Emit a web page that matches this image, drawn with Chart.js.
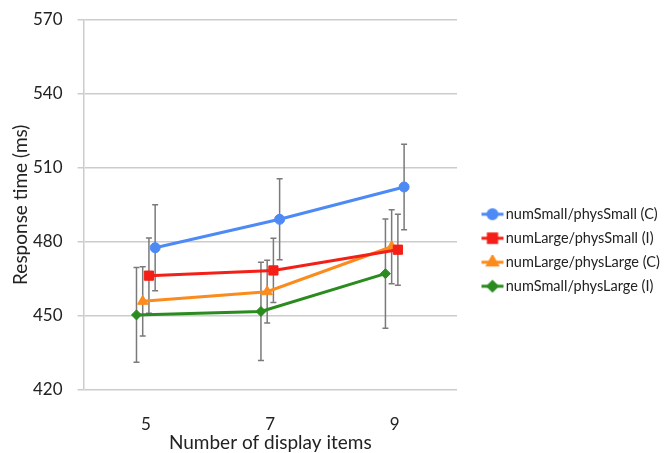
<!DOCTYPE html>
<html>
<head>
<meta charset="utf-8">
<script src="https://cdn.jsdelivr.net/npm/chart.js@4.4.0/dist/chart.umd.min.js"></script>
<style>
  html, body { margin: 0; padding: 0; background: #fff; }
  #wrap { width: 668px; height: 453px; }
</style>
</head>
<body>
<div id="wrap"><canvas id="myChart" width="668" height="453"></canvas></div>
<script>
// number of display items
var categories = [5, 7, 9];
var yTicks = [420, 450, 480, 510, 540, 570];

var seriesNames = [
  'numSmall/physSmall (C)',
  'numLarge/physSmall (I)',
  'numLarge/physLarge (C)',
  'numSmall/physLarge (I)'
];
var smallSmall = [477.6, 489.1, 502.2];
var largeSmall = [466.3, 468.4, 476.8];
var largeLarge = [455.9, 459.8, 478.0];
var smallLarge = [450.4, 451.8, 467.1];

// error bar half widths
var smallSmallErr = [17.4, 16.4, 17.3];
var largeSmallErr = [15.2, 13.0, 14.4];
var largeLargeErr = [14.0, 12.7, 15.0];
var smallLargeErr = [19.2, 19.9, 22.1];

var colors = ['#4d8af6', '#f41f16', '#fc8b1d', '#2b8b1f'];
var markers = ['circle', 'rect', 'triangle', 'rectRot'];
var radii = [5, 6.5, 6, 5];
var shift = [0.15, 0.05, -0.05, -0.15];

var values = [smallSmall, largeSmall, largeLarge, smallLarge];
var errors = [smallSmallErr, largeSmallErr, largeLargeErr, smallLargeErr];

// legend swatch: line with marker, drawn off-centre so text sits right after it
function legendIcon(i) {
  var c = document.createElement('canvas');
  c.width = 44; c.height = 14;
  var g = c.getContext('2d');
  g.strokeStyle = colors[i];
  g.fillStyle = colors[i];
  g.lineWidth = 3;
  g.beginPath(); g.moveTo(21, 7); g.lineTo(43, 7); g.stroke();
  Chart.helpers.drawPoint(g, { pointStyle: markers[i], radius: radii[i] * 0.9, borderWidth: 1 }, 32, 7);
  g.fill();
  return c;
}
var icons = [0, 1, 2, 3].map(legendIcon);

var datasets = values.map(function (vals, i) {
  return {
    label: seriesNames[i],
    data: vals.map(function (v, j) { return { x: categories[j] + shift[i], y: v }; }),
    borderColor: colors[i],
    backgroundColor: colors[i],
    borderWidth: 3,
    pointStyle: markers[i],
    pointRadius: radii[i],
    pointHoverRadius: radii[i],
    pointBorderWidth: 1,
    tension: 0,
    errs: errors[i]
  };
});

var errorBars = {
  id: 'errorBars',
  afterInit: function (chart) {
    // keep the legend column wide enough for its labels
    var lg = chart.legend, fit = lg.fit;
    lg.fit = function () { fit.call(this); this.width = 211; };
  },
  beforeDatasetsDraw: function (chart) {
    var ctx = chart.ctx, xs = chart.scales.x, ys = chart.scales.y;
    ctx.save();
    ctx.strokeStyle = '#7a7a7a';
    ctx.lineWidth = 1.5;
    chart.data.datasets.forEach(function (ds) {
      ds.data.forEach(function (p, j) {
        var x = xs.getPixelForValue(p.x);
        var y1 = ys.getPixelForValue(p.y + ds.errs[j]);
        var y2 = ys.getPixelForValue(p.y - ds.errs[j]);
        ctx.beginPath();
        ctx.moveTo(x, y1); ctx.lineTo(x, y2);
        ctx.moveTo(x - 3, y1); ctx.lineTo(x + 3, y1);
        ctx.moveTo(x - 3, y2); ctx.lineTo(x + 3, y2);
        ctx.stroke();
      });
    });
    ctx.restore();
  }
};

Chart.defaults.font.family = 'Lato, "Open Sans", sans-serif';
Chart.defaults.color = '#222';

var ctx = document.getElementById('myChart');
var myChart = new Chart(ctx, {
  type: 'line',
  data: { datasets: datasets },
  options: {
    responsive: false,
    animation: false,
    layout: { padding: { top: 0, left: 8, right: 0, bottom: 0 } },
    scales: {
      x: {
        type: 'linear',
        min: 4, max: 10,
        afterBuildTicks: function (axis) {
          axis.ticks = categories.map(function (v) { return { value: v }; });
        },
        grid: { display: false, drawTicks: false },
        border: { display: false },
        ticks: { padding: 24, font: { size: 17 } },
        title: { display: true, text: 'Number of display items', font: { size: 19 }, padding: { top: -26.7, bottom: -1.5 } }
      },
      y: {
        min: 420, max: 570,
        afterBuildTicks: function (axis) {
          axis.ticks = yTicks.map(function (v) { return { value: v }; });
        },
        afterFit: function (axis) { axis.paddingTop = 19.5; },
        grid: { color: '#cccccc', lineWidth: 1.5, tickLength: 6 },
        border: { display: true, color: '#cccccc', width: 1.5 },
        ticks: { padding: 15, font: { size: 17 } },
        title: { display: true, text: 'Response time (ms)', font: { size: 19 }, padding: { top: 1, bottom: -13.8 } }
      }
    },
    plugins: {
      tooltip: { enabled: false },
      legend: {
        position: 'right',
        title: { display: true, text: '', padding: { top: 0, bottom: 33 } },
        labels: {
          usePointStyle: true,
          pointStyleWidth: 32,
          padding: 9.5,
          font: { size: 14.5 },
          generateLabels: function (chart) {
            var items = Chart.defaults.plugins.legend.labels.generateLabels(chart);
            items.forEach(function (it, i) { it.pointStyle = icons[i]; });
            return items;
          }
        }
      }
    }
  },
  plugins: [errorBars]
});
</script>
</body>
</html>
